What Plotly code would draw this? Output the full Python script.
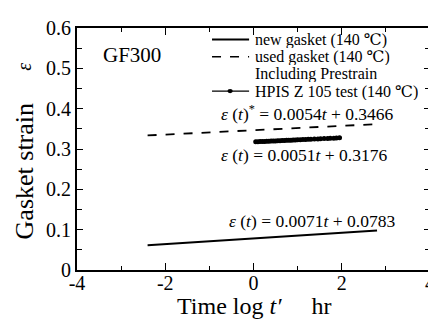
import plotly.graph_objects as go

# ---- data ----
new_x = [-2.4, 2.8]
new_y = [0.0613, 0.0982]
used_x = [-2.4, 2.8]
used_y = [0.3336, 0.3617]
hpis_x = [0.05, 0.1, 0.15, 0.2, 0.25, 0.3, 0.35, 0.4, 0.45, 0.5, 0.55, 0.6, 0.65, 0.7,
          0.75, 0.8, 0.85, 0.9, 0.95, 1.0, 1.06, 1.12, 1.18, 1.24, 1.3, 1.38, 1.46,
          1.52, 1.6, 1.68, 1.74, 1.82, 1.88, 1.95]
hpis_y = [0.318, 0.318, 0.3184, 0.3186, 0.3189, 0.3191, 0.3194, 0.3196, 0.3199, 0.3201,
          0.3204, 0.3206, 0.3209, 0.3212, 0.3214, 0.3217, 0.3219, 0.3222, 0.3224, 0.3227,
          0.323, 0.3233, 0.3236, 0.3239, 0.3242, 0.3246, 0.325, 0.3254, 0.3258, 0.3262,
          0.3265, 0.3269, 0.3272, 0.3276]
x_ticks = [-4, -2, 0, 2, 4]
x_labels = ["-4", "-2", "0", "2", "4"]
legend_names = ["new gasket (140 ℃)", "used gasket (140 ℃)", "Including Prestrain",
                "HPIS Z 105 test (140 ℃)"]

SERIF = "'Liberation Serif', 'DejaVu Serif', serif"

fig = go.Figure()
fig.add_trace(go.Scatter(x=new_x, y=new_y, mode="lines",
                         line=dict(color="black", width=2), showlegend=False))
fig.add_trace(go.Scatter(x=used_x, y=used_y, mode="lines",
                         line=dict(color="black", width=1.8, dash="dash"), showlegend=False))
fig.add_trace(go.Scatter(x=hpis_x, y=hpis_y, mode="markers",
                         marker=dict(color="black", size=5), showlegend=False))

# manual legend
leg_y = [0.5715, 0.5289, 0.4862, 0.4435]
for name, yy in zip(legend_names, leg_y):
    fig.add_annotation(x=-0.02, y=yy, text=name, showarrow=False, xanchor="left",
                       yanchor="middle", height=17, valign="middle",
                       font=dict(family=SERIF, size=16, color="black"))
fig.add_shape(type="line", x0=-0.94, x1=-0.1, y0=leg_y[0], y1=leg_y[0],
              line=dict(color="black", width=2))
fig.add_shape(type="line", x0=-0.94, x1=-0.1, y0=leg_y[1], y1=leg_y[1],
              line=dict(color="black", width=1.6, dash="dash"))
fig.add_shape(type="line", x0=-0.94, x1=-0.1, y0=leg_y[3], y1=leg_y[3],
              line=dict(color="black", width=1.2))
fig.add_shape(type="circle", x0=-0.59, x1=-0.47, y0=leg_y[3] - 0.005, y1=leg_y[3] + 0.005,
              fillcolor="black", line=dict(color="black", width=0))

# equations
eqs = [
    (-0.78, 0.389, "<i>ε</i> (<i>t</i>)<sup>*</sup> = 0.0054<i>t</i> + 0.3466"),
    (-0.78, 0.2846, "<i>ε</i> (<i>t</i>) = 0.0051<i>t</i> + 0.3176"),
    (-0.6, 0.121, "<i>ε</i> (<i>t</i>) = 0.0071<i>t</i> + 0.0783"),
]
for ex, ey, et in eqs:
    fig.add_annotation(x=ex, y=ey, text=et, showarrow=False, xanchor="left",
                       yanchor="middle", font=dict(family=SERIF, size=17.5, color="black"))

fig.add_annotation(x=-3.46, y=0.5336, text="GF300", showarrow=False, xanchor="left",
                   yanchor="middle", font=dict(family=SERIF, size=21, color="black"))

# axis titles
fig.add_annotation(xref="paper", yref="paper", x=-0.149, y=0.409, text="Gasket strain",
                   textangle=-90, showarrow=False, xanchor="center", yanchor="middle",
                   font=dict(family=SERIF, size=26, color="black"))
fig.add_annotation(xref="paper", yref="paper", x=-0.149, y=0.842, text="<i>ε</i>",
                   textangle=-90, showarrow=False, xanchor="center", yanchor="middle",
                   font=dict(family=SERIF, size=20, color="black"))
fig.add_annotation(xref="paper", yref="paper", x=0.501, y=-0.15,
                   text="Time log <i>t′</i>\u00a0\u00a0\u00a0\u00a0\u00a0hr",
                   showarrow=False, xanchor="center", yanchor="middle",
                   font=dict(family=SERIF, size=24, color="black"))

fig.update_xaxes(range=[-4, 4], tickvals=x_ticks, ticktext=x_labels, ticks="inside",
                 ticklen=7, tickwidth=1.2, tickcolor="black", showline=True,
                 linecolor="black", linewidth=2, mirror="ticks", showgrid=False,
                 zeroline=False, ticklabelstandoff=-6,
                 minor=dict(dtick=1, ticks="inside", ticklen=4,
                            tickcolor="black", showgrid=False),
                 tickfont=dict(family=SERIF, size=20, color="black"))
fig.update_yaxes(range=[0, 0.6], dtick=0.1, ticks="inside", ticklen=6, tickwidth=1.2,
                 tickcolor="black", showline=True, linecolor="black", linewidth=2,
                 mirror="ticks", showgrid=False, zeroline=False,
                 minor=dict(dtick=0.05, ticks="inside", ticklen=5, tickcolor="black",
                            showgrid=False),
                 tickfont=dict(family=SERIF, size=20, color="black"))

# the page body has an 8px margin, so the figure is offset to compensate
fig.update_layout(width=436, height=322, margin=dict(l=69, r=12, t=9, b=60),
                  plot_bgcolor="white", paper_bgcolor="white", showlegend=False)

fig.write_html("out.html")
